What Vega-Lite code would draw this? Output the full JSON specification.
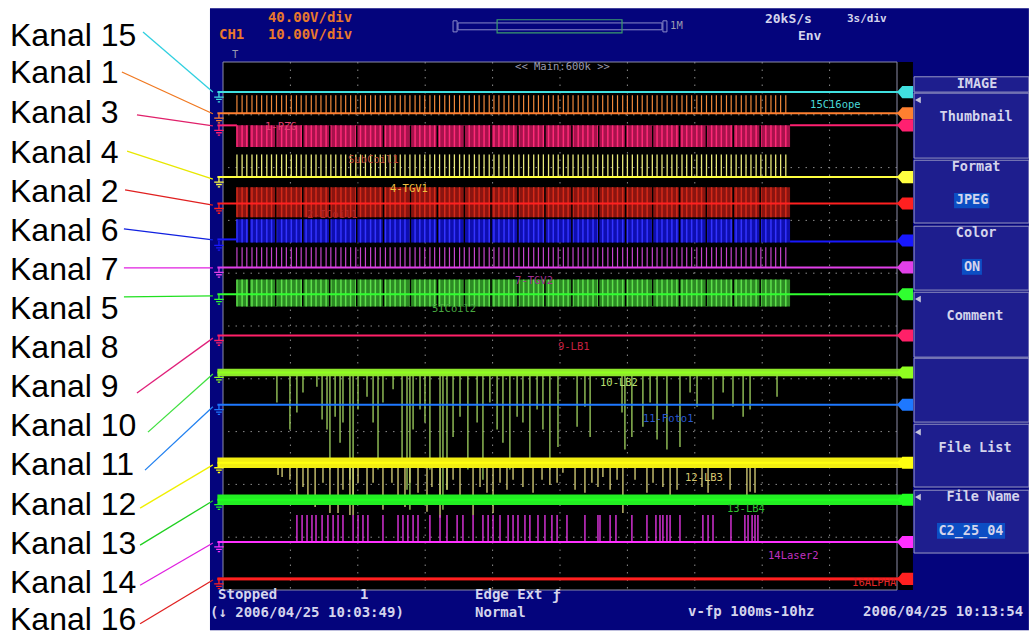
{
"$schema":"https://vega.github.io/schema/vega-lite/v6.json",
"width":674,"height":528,
"autosize":{"type":"none"},
"padding":{"left":223,"top":62,"right":132,"bottom":47},
"background":"#ffffff",
"config":{"view":{"stroke":null},"axis":{"disable":true},"legend":{"disable":true}},
"resolve":{"scale":{"color":"independent","strokeWidth":"independent"}},
"datasets":{
"train":[{"t":0.62},{"t":0.85},{"t":1.06},{"t":1.29},{"t":1.5},{"t":1.72},{"t":1.95},{"t":2.16},{"t":2.38},{"t":2.61},{"t":2.82},{"t":3.04},{"t":3.27},{"t":3.48},{"t":3.7},{"t":3.93},{"t":4.14},{"t":4.36},{"t":4.59},{"t":4.8},{"t":5.02},{"t":5.25},{"t":5.46},{"t":5.68},{"t":5.91},{"t":6.12},{"t":6.34},{"t":6.57},{"t":6.78},{"t":7.0},{"t":7.23},{"t":7.44},{"t":7.66},{"t":7.89},{"t":8.1},{"t":8.32},{"t":8.55},{"t":8.76},{"t":8.98},{"t":9.21},{"t":9.42},{"t":9.64},{"t":9.87},{"t":10.08},{"t":10.3},{"t":10.53},{"t":10.74},{"t":10.96},{"t":11.19},{"t":11.4},{"t":11.62},{"t":11.85},{"t":12.06},{"t":12.28},{"t":12.51},{"t":12.72},{"t":12.94},{"t":13.17},{"t":13.38},{"t":13.6},{"t":13.83},{"t":14.04},{"t":14.26},{"t":14.49},{"t":14.7},{"t":14.92},{"t":15.15},{"t":15.36},{"t":15.58},{"t":15.81},{"t":16.02},{"t":16.24},{"t":16.47},{"t":16.68},{"t":16.9},{"t":17.13},{"t":17.34},{"t":17.56},{"t":17.79},{"t":18.0},{"t":18.22},{"t":18.45},{"t":18.66},{"t":18.88},{"t":19.11},{"t":19.32},{"t":19.54},{"t":19.77},{"t":19.98},{"t":20.2},{"t":20.43},{"t":20.64},{"t":20.86},{"t":21.09},{"t":21.3},{"t":21.52},{"t":21.75},{"t":21.96},{"t":22.18},{"t":22.41},{"t":22.62},{"t":22.84},{"t":23.07},{"t":23.28},{"t":23.5},{"t":23.73},{"t":23.94},{"t":24.16},{"t":24.39},{"t":24.6},{"t":24.82},{"t":25.05}],
"gaps":[{"t":1.16},{"t":2.35},{"t":3.55},{"t":4.75},{"t":5.95},{"t":7.14},{"t":8.34},{"t":9.54},{"t":10.74},{"t":11.93},{"t":13.13},{"t":14.33},{"t":15.53},{"t":16.72},{"t":17.92},{"t":19.12},{"t":20.32},{"t":21.51},{"t":22.71},{"t":23.91}],
"traces":[{"s":"c15","v":9.43},{"s":"c1","v":9.03},{"s":"c3","v":8.8},{"s":"c4","v":7.82},{"s":"c2","v":7.32},{"s":"c6","v":6.62},{"s":"c7","v":6.11},{"s":"c5","v":5.6},{"s":"c9","v":4.82},{"s":"c10","v":4.12},{"s":"c11","v":3.51},{"s":"c12","v":2.41},{"s":"c13","v":1.71},{"s":"c14","v":0.91},{"s":"c16","v":0.21}]
},
"layer":[
{"data":{"values":[{"part":"bezel","t0":-0.58,"t1":35.87,"v0":11.02,"v1":-0.76}]},
 "mark":{"type":"rect","fill":"#04047c"},
 "encoding":{"x":{"field":"t0","type":"quantitative","scale":{"domain":[0,30],"nice":false,"zero":false},"axis":null},"x2":{"field":"t1"},
 "y":{"field":"v0","type":"quantitative","scale":{"domain":[0,10],"nice":false,"zero":false},"axis":null},"y2":{"field":"v1"}}},
{"data":{"values":[{"part":"screen","t0":0,"t1":30.71,"v0":0,"v1":10}]},
 "mark":{"type":"rect","fill":"#000000"},
 "encoding":{"x":{"field":"t0","type":"quantitative"},"x2":{"field":"t1"},"y":{"field":"v0","type":"quantitative"},"y2":{"field":"v1"}}},
{"data":{"values":[{"box":"header","t0":30.76,"t1":35.87,"v0":9.72,"v1":9.43},{"box":"1","t0":30.76,"t1":35.87,"v0":9.41,"v1":8.18},{"box":"2","t0":30.76,"t1":35.87,"v0":8.14,"v1":6.95},{"box":"3","t0":30.76,"t1":35.87,"v0":6.89,"v1":5.68},{"box":"4","t0":30.76,"t1":35.87,"v0":5.64,"v1":4.41},{"box":"5","t0":30.76,"t1":35.87,"v0":4.39,"v1":3.18},{"box":"6","t0":30.76,"t1":35.87,"v0":3.14,"v1":1.95},{"box":"7","t0":30.76,"t1":35.87,"v0":1.89,"v1":0.7}]},
 "mark":{"type":"rect","fill":"#1e1e8e","stroke":"#9a9ac4","strokeWidth":1},
 "encoding":{"x":{"field":"t0","type":"quantitative"},"x2":{"field":"t1"},"y":{"field":"v0","type":"quantitative"},"y2":{"field":"v1"}}},
{"data":{"values":[{"item":"JPEG","t0":32.54,"t1":34.11,"v0":7.52,"v1":7.23},{"item":"ON","t0":32.89,"t1":33.78,"v0":6.27,"v1":5.97},{"item":"C2_25_04","t0":31.78,"t1":34.81,"v0":1.27,"v1":0.97}]},
 "mark":{"type":"rect","fill":"#0c4ec4"},
 "encoding":{"x":{"field":"t0","type":"quantitative"},"x2":{"field":"t1"},"y":{"field":"v0","type":"quantitative"},"y2":{"field":"v1"}}},
{"data":{"values":[{"t":3},{"t":6},{"t":9},{"t":12},{"t":15},{"t":18},{"t":21},{"t":24},{"t":27}]},
 "mark":{"type":"rule","color":"#8a8a8a","strokeWidth":1,"strokeDash":[1.5,6]},
 "encoding":{"x":{"field":"t","type":"quantitative"}}},
{"data":{"values":[{"v":1},{"v":2},{"v":3},{"v":4},{"v":5},{"v":6},{"v":7},{"v":8},{"v":9}]},
 "mark":{"type":"rule","color":"#8a8a8a","strokeWidth":1,"strokeDash":[1.5,6]},
 "encoding":{"y":{"field":"v","type":"quantitative"}}},
{"data":{"values":[{"part":"border","t0":0,"t1":30,"v0":0,"v1":10}]},
 "mark":{"type":"rect","fillOpacity":0,"stroke":"#8c8ca8","strokeWidth":1},
 "encoding":{"x":{"field":"t0","type":"quantitative"},"x2":{"field":"t1"},"y":{"field":"v0","type":"quantitative"},"y2":{"field":"v1"}}},
{"data":{"values":[{"t":2.4,"v":3.55},{"t":2.98,"v":3.04},{"t":3.29,"v":3.36},{"t":3.56,"v":3.74},{"t":4.18,"v":3.85},{"t":4.41,"v":3.23},{"t":4.63,"v":3.04},{"t":4.76,"v":2.28},{"t":4.99,"v":3.28},{"t":5.21,"v":2.79},{"t":5.34,"v":3.17},{"t":5.65,"v":2.09},{"t":5.79,"v":1.71},{"t":6.01,"v":3.42},{"t":6.41,"v":3.66},{"t":6.68,"v":3.17},{"t":6.9,"v":2.28},{"t":7.12,"v":3.55},{"t":7.57,"v":3.8},{"t":7.97,"v":2.47},{"t":8.19,"v":1.9},{"t":8.32,"v":1.52},{"t":8.46,"v":3.04},{"t":8.77,"v":3.42},{"t":8.99,"v":3.17},{"t":9.21,"v":2.28},{"t":9.66,"v":1.71},{"t":9.79,"v":1.52},{"t":9.97,"v":1.9},{"t":10.24,"v":2.9},{"t":10.55,"v":3.28},{"t":10.9,"v":2.28},{"t":11.31,"v":3.17},{"t":11.57,"v":2.09},{"t":11.88,"v":3.55},{"t":12.2,"v":3.04},{"t":12.46,"v":2.79},{"t":12.77,"v":2.28},{"t":13.09,"v":3.28},{"t":13.35,"v":3.17},{"t":13.66,"v":2.47},{"t":13.98,"v":3.42},{"t":14.24,"v":3.04},{"t":14.55,"v":2.28},{"t":14.91,"v":2.71},{"t":15.76,"v":3.09},{"t":16.11,"v":3.47},{"t":16.34,"v":2.9},{"t":17.76,"v":3.36},{"t":17.89,"v":2.66},{"t":18.2,"v":2.9},{"t":18.69,"v":3.09},{"t":19.01,"v":3.55},{"t":19.32,"v":2.85},{"t":19.76,"v":2.66},{"t":20.34,"v":2.71},{"t":20.79,"v":3.74},{"t":21.1,"v":3.47},{"t":21.81,"v":3.23},{"t":22.26,"v":3.74},{"t":22.7,"v":3.47},{"t":23.15,"v":3.28},{"t":23.46,"v":3.42},{"t":24.66,"v":3.66}]},
 "mark":{"type":"rule","color":"#a2d460","strokeWidth":1.3},
 "encoding":{"x":{"field":"t","type":"quantitative"},"y":{"field":"v","type":"quantitative"},"y2":{"datum":4.12}}},
{"data":{"values":[{"t":2.45,"v":2.18},{"t":2.63,"v":2.14},{"t":2.98,"v":2.09},{"t":3.29,"v":1.8},{"t":3.56,"v":1.95},{"t":3.78,"v":1.8},{"t":4.1,"v":1.57},{"t":4.45,"v":2.03},{"t":4.76,"v":1.46},{"t":5.12,"v":1.46},{"t":5.34,"v":1.9},{"t":5.65,"v":1.42},{"t":5.79,"v":1.42},{"t":6.01,"v":2.03},{"t":6.41,"v":1.8},{"t":6.68,"v":2.03},{"t":7.12,"v":1.52},{"t":7.52,"v":2.03},{"t":7.79,"v":1.76},{"t":8.1,"v":1.57},{"t":8.32,"v":2.03},{"t":8.68,"v":1.84},{"t":9.08,"v":1.48},{"t":9.3,"v":1.95},{"t":9.66,"v":1.37},{"t":9.97,"v":1.9},{"t":10.24,"v":2.09},{"t":10.55,"v":1.76},{"t":11.13,"v":1.42},{"t":11.44,"v":1.95},{"t":11.75,"v":1.84},{"t":12.02,"v":1.46},{"t":12.33,"v":2.03},{"t":12.64,"v":1.9},{"t":12.91,"v":2.09},{"t":13.35,"v":1.95},{"t":13.8,"v":1.84},{"t":14.2,"v":2.09},{"t":14.55,"v":1.99},{"t":14.87,"v":2.03},{"t":15.13,"v":2.22},{"t":15.67,"v":1.9},{"t":16.11,"v":1.84},{"t":16.42,"v":2.03},{"t":16.69,"v":1.95},{"t":16.91,"v":2.14},{"t":17.23,"v":1.9},{"t":17.54,"v":2.09},{"t":17.8,"v":1.46},{"t":18.34,"v":2.09},{"t":18.87,"v":1.84},{"t":19.14,"v":2.03},{"t":19.58,"v":1.95},{"t":19.9,"v":1.8},{"t":20.21,"v":1.9},{"t":21.32,"v":1.95},{"t":21.59,"v":1.84},{"t":22.57,"v":1.9},{"t":23.32,"v":1.8},{"t":23.46,"v":1.86},{"t":23.68,"v":1.84}]},
 "mark":{"type":"rule","color":"#dcd47a","strokeWidth":1.3},
 "encoding":{"x":{"field":"t","type":"quantitative"},"y":{"field":"v","type":"quantitative"},"y2":{"datum":2.41}}},
{"data":{"values":[{"s":"c3","t0":0.62,"t1":25.24,"lo":8.39,"hi":8.8},{"s":"c2","t0":0.62,"t1":25.24,"lo":7.06,"hi":7.63},{"s":"c6","t0":0.62,"t1":25.24,"lo":6.58,"hi":7.02},{"s":"c5","t0":0.62,"t1":25.24,"lo":5.37,"hi":5.88},{"s":"c10","t0":-0.25,"t1":30.2,"lo":4.05,"hi":4.19},{"s":"c12","t0":-0.25,"t1":30.2,"lo":2.31,"hi":2.51},{"s":"c13","t0":-0.25,"t1":30.2,"lo":1.61,"hi":1.81},{"s":"c16","t0":-0.25,"t1":30.2,"lo":0.18,"hi":0.24}]},
 "mark":{"type":"rect"},
 "encoding":{"x":{"field":"t0","type":"quantitative"},"x2":{"field":"t1"},"y":{"field":"lo","type":"quantitative"},"y2":{"field":"hi"},
 "color":{"field":"s","type":"nominal","scale":{"domain":["c3","c2","c6","c5","c10","c12","c13","c16"],"range":["#a8124c","#8a1410","#0e0eb0","#2c8a24","#8ee82a","#f2ee12","#22ee22","#d81818"]},"legend":null}}},
{"data":{"name":"train"},"mark":{"type":"rule","color":"#ff2a78","strokeWidth":1.5},
 "encoding":{"x":{"field":"t","type":"quantitative"},"y":{"datum":8.39},"y2":{"datum":8.8}}},
{"data":{"name":"train"},"mark":{"type":"rule","color":"#d42a1a","strokeWidth":1.5},
 "encoding":{"x":{"field":"t","type":"quantitative"},"y":{"datum":7.06},"y2":{"datum":7.63}}},
{"data":{"name":"train"},"mark":{"type":"rule","color":"#3434ff","strokeWidth":1.5},
 "encoding":{"x":{"field":"t","type":"quantitative"},"y":{"datum":6.58},"y2":{"datum":7.02}}},
{"data":{"name":"train"},"mark":{"type":"rule","color":"#5ee04c","strokeWidth":1.5},
 "encoding":{"x":{"field":"t","type":"quantitative"},"y":{"datum":5.37},"y2":{"datum":5.88}}},
{"data":{"name":"gaps"},"mark":{"type":"rule","color":"#000000","strokeWidth":1.5},
 "encoding":{"x":{"field":"t","type":"quantitative"},"y":{"datum":5.37},"y2":{"datum":8.8}}},
{"data":{"name":"train"},"mark":{"type":"rule","color":"#f0883a","strokeWidth":1.2},
 "encoding":{"x":{"field":"t","type":"quantitative"},"y":{"datum":9.03},"y2":{"datum":9.37}}},
{"data":{"name":"train"},"mark":{"type":"rule","color":"#e8e87a","strokeWidth":1.3},
 "encoding":{"x":{"field":"t","type":"quantitative"},"y":{"datum":7.82},"y2":{"datum":8.25}}},
{"data":{"name":"train"},"mark":{"type":"rule","color":"#c444cc","strokeWidth":1.2},
 "encoding":{"x":{"field":"t","type":"quantitative"},"y":{"datum":6.11},"y2":{"datum":6.49}}},
{"data":{"values":[{"t":3.29},{"t":3.52},{"t":3.74},{"t":3.96},{"t":4.14},{"t":4.41},{"t":4.67},{"t":4.9},{"t":5.12},{"t":5.34},{"t":5.79},{"t":6.01},{"t":6.23},{"t":6.45},{"t":7.12},{"t":7.79},{"t":8.01},{"t":8.23},{"t":8.46},{"t":8.68},{"t":9.21},{"t":9.66},{"t":9.97},{"t":10.42},{"t":10.68},{"t":11.13},{"t":11.57},{"t":11.8},{"t":12.02},{"t":12.33},{"t":12.69},{"t":12.91},{"t":13.13},{"t":13.44},{"t":13.66},{"t":14.02},{"t":14.33},{"t":14.64},{"t":14.87},{"t":15.31},{"t":16.11},{"t":16.69},{"t":16.78},{"t":17.23},{"t":17.49},{"t":18.2},{"t":18.87},{"t":19.27},{"t":19.45},{"t":19.58},{"t":19.76},{"t":19.9},{"t":20.34},{"t":21.36},{"t":21.59},{"t":21.81},{"t":22.61},{"t":23.23},{"t":23.37},{"t":23.55},{"t":23.68},{"t":23.81}]},
 "mark":{"type":"rule","color":"#e034e0","strokeWidth":1.4},
 "encoding":{"x":{"field":"t","type":"quantitative"},"y":{"datum":0.91},"y2":{"datum":1.42}}},
{"data":{"values":[{"s":"c15","t0":-0.25,"t1":30.2,"v":9.43},{"s":"c1","t0":-0.25,"t1":30.2,"v":9.03},{"s":"c3","t0":-0.25,"t1":0.62,"v":8.8},{"s":"c3","t0":25.24,"t1":30.2,"v":8.8},{"s":"c4","t0":-0.25,"t1":30.2,"v":7.82},{"s":"c2","t0":-0.25,"t1":30.2,"v":7.32},{"s":"c6","t0":-0.25,"t1":0.62,"v":6.64},{"s":"c6","t0":25.24,"t1":30.2,"v":6.6},{"s":"c7","t0":-0.25,"t1":30.2,"v":6.11},{"s":"c5","t0":-0.25,"t1":30.2,"v":5.6},{"s":"c9","t0":-0.25,"t1":30.2,"v":4.82},{"s":"c10","t0":-0.25,"t1":30.2,"v":4.12},{"s":"c11","t0":-0.25,"t1":30.2,"v":3.51},{"s":"c12","t0":-0.25,"t1":30.2,"v":2.41},{"s":"c13","t0":-0.25,"t1":30.2,"v":1.71},{"s":"c14","t0":-0.25,"t1":30.2,"v":0.91},{"s":"c16","t0":-0.25,"t1":30.2,"v":0.21}]},
 "mark":{"type":"rule"},
 "encoding":{"x":{"field":"t0","type":"quantitative"},"x2":{"field":"t1"},"y":{"field":"v","type":"quantitative"},
 "color":{"field":"s","type":"nominal","scale":{"domain":["c15","c1","c3","c4","c2","c6","c7","c5","c9","c10","c11","c12","c13","c14","c16"],"range":["#40e0e0","#ff8030","#ff2070","#ffff40","#ff2020","#1818ff","#e040e8","#30ff30","#ff2068","#90ff20","#1e78ff","#ffff10","#20ff20","#ff30ff","#ff2020"]},"legend":null},
 "strokeWidth":{"field":"s","type":"nominal","scale":{"domain":["c15","c1","c3","c4","c2","c6","c7","c5","c9","c10","c11","c12","c13","c14","c16"],"range":[2,2,3,2,4,3,3,4,4,2,5,2,2,4,2]},"legend":null}}},
{"data":{"name":"traces"},
 "mark":{"type":"point","shape":"M0,-1L0,0M-1,0L1,0M-0.6,0.5L0.6,0.5M-0.25,1L0.25,1","filled":false,"size":90,"strokeWidth":1.3,"yOffset":5,"opacity":1},
 "encoding":{"x":{"datum":-0.18},"y":{"field":"v","type":"quantitative"},
 "color":{"field":"s","type":"nominal","scale":{"domain":["c15","c1","c3","c4","c2","c6","c7","c5","c9","c10","c11","c12","c13","c14","c16"],"range":["#40e0e0","#ff8030","#ff2070","#ffff40","#ff2020","#1818ff","#e040e8","#30ff30","#ff2068","#90ff20","#1e78ff","#ffff10","#20ff20","#ff30ff","#ff2020"]},"legend":null}}},
{"data":{"name":"traces"},
 "mark":{"type":"point","shape":"M-1,0L-0.35,-0.75L1,-0.75L1,0.75L-0.35,0.75Z","filled":true,"size":260,"opacity":1},
 "encoding":{"x":{"datum":30.36},"y":{"field":"v","type":"quantitative"},
 "color":{"field":"s","type":"nominal","scale":{"domain":["c15","c1","c3","c4","c2","c6","c7","c5","c9","c10","c11","c12","c13","c14","c16"],"range":["#40e0e0","#ff8030","#ff2070","#ffff40","#ff2020","#1818ff","#e040e8","#30ff30","#ff2068","#90ff20","#1e78ff","#ffff10","#20ff20","#ff30ff","#ff2020"]},"legend":null}}},
{"data":{"values":[{"txt":"15C16ope","t":26.13,"v":9.19},{"txt":"1-PZG","t":1.87,"v":8.77},{"txt":"SubCoil1","t":5.56,"v":8.14},{"txt":"4-TGV1","t":7.43,"v":7.59},{"txt":"2-ICoil1","t":3.74,"v":7.1},{"txt":"7-TGV2","t":13.0,"v":5.85},{"txt":"5ICoil2","t":9.3,"v":5.32},{"txt":"9-LB1","t":14.91,"v":4.6},{"txt":"10-LB2","t":16.78,"v":3.92},{"txt":"11-Foto1","t":18.69,"v":3.24},{"txt":"12-LB3","t":20.56,"v":2.12},{"txt":"13-LB4","t":22.43,"v":1.53},{"txt":"14Laser2","t":24.26,"v":0.64},{"txt":"16ALPHA","t":28.0,"v":0.13}]},
 "mark":{"type":"text","align":"left","baseline":"middle","font":"DejaVu Sans Mono","fontSize":10.5},
 "encoding":{"x":{"field":"t","type":"quantitative"},"y":{"field":"v","type":"quantitative"},"text":{"field":"txt"},
 "color":{"field":"txt","type":"nominal","scale":{"domain":["15C16ope","1-PZG","SubCoil1","4-TGV1","2-ICoil1","7-TGV2","5ICoil2","9-LB1","10-LB2","11-Foto1","12-LB3","13-LB4","14Laser2","16ALPHA"],"range":["#48d8d8","#e04070","#b84a3a","#f0c040","#b02828","#a03090","#48a840","#c82040","#b8e070","#2858d0","#d8c870","#30c030","#c030c0","#e02828"]},"legend":null}}},
{"data":{"values":[{"part":"bar","t0":10.46,"t1":19.54,"v0":10.74,"v1":10.61},{"part":"left","t0":10.24,"t1":10.42,"v0":10.78,"v1":10.57},{"part":"right","t0":19.58,"t1":19.76,"v0":10.78,"v1":10.57}]},
 "mark":{"type":"rect","fillOpacity":0,"stroke":"#8a8ac8","strokeWidth":1},
 "encoding":{"x":{"field":"t0","type":"quantitative"},"x2":{"field":"t1"},"y":{"field":"v0","type":"quantitative"},"y2":{"field":"v1"}}},
{"data":{"values":[{"part":"window","t0":12.2,"t1":17.76,"v0":10.8,"v1":10.55}]},
 "mark":{"type":"rect","fillOpacity":0,"stroke":"#3c9c6c","strokeWidth":1.2},
 "encoding":{"x":{"field":"t0","type":"quantitative"},"x2":{"field":"t1"},"y":{"field":"v0","type":"quantitative"},"y2":{"field":"v1"}}},
{"data":{"values":[{"txt":"40.00V/div","t":2.0,"v":10.83},{"txt":"CH1","t":-0.18,"v":10.51},{"txt":"10.00V/div","t":2.0,"v":10.51}]},
 "mark":{"type":"text","align":"left","baseline":"middle","font":"DejaVu Sans Mono","fontSize":14,"fontWeight":"bold","color":"#e8782c"},
 "encoding":{"x":{"field":"t","type":"quantitative"},"y":{"field":"v","type":"quantitative"},"text":{"field":"txt"}}},
{"data":{"values":[{"txt":"20kS/s","t":24.12,"v":10.81},{"txt":"Env","t":25.59,"v":10.5}]},
 "mark":{"type":"text","align":"left","baseline":"middle","font":"DejaVu Sans Mono","fontSize":13,"fontWeight":"bold","color":"#d4d4ec"},
 "encoding":{"x":{"field":"t","type":"quantitative"},"y":{"field":"v","type":"quantitative"},"text":{"field":"txt"}}},
{"data":{"values":[{"txt":"Stopped","t":-0.22,"v":-0.09},{"txt":"1","t":6.1,"v":-0.09},{"txt":"Edge Ext","t":11.22,"v":-0.09},{"txt":"ƒ","t":14.65,"v":-0.11},{"txt":"(↓ 2006/04/25 10:03:49)","t":-0.58,"v":-0.44},{"txt":"Normal","t":11.22,"v":-0.44},{"txt":"v-fp 100ms-10hz","t":20.7,"v":-0.42},{"txt":"2006/04/25 10:13:54","t":28.49,"v":-0.42}]},
 "mark":{"type":"text","align":"left","baseline":"middle","font":"DejaVu Sans Mono","fontSize":14,"fontWeight":"bold","color":"#d4d4ec"},
 "encoding":{"x":{"field":"t","type":"quantitative"},"y":{"field":"v","type":"quantitative"},"text":{"field":"txt"}}},
{"data":{"values":[{"txt":"3s/div","t":27.77,"v":10.81}]},
 "mark":{"type":"text","align":"left","baseline":"middle","font":"DejaVu Sans Mono","fontSize":11,"fontWeight":"bold","color":"#d4d4ec"},
 "encoding":{"x":{"field":"t","type":"quantitative"},"y":{"field":"v","type":"quantitative"},"text":{"field":"txt"}}},
{"data":{"values":[{"txt":"<< Main:600k >>","t":13.0,"v":9.91},{"txt":"1M","t":19.9,"v":10.68},{"txt":"T","t":0.4,"v":10.14}]},
 "mark":{"type":"text","align":"left","baseline":"middle","font":"DejaVu Sans Mono","fontSize":10.5,"color":"#9a9ab0"},
 "encoding":{"x":{"field":"t","type":"quantitative"},"y":{"field":"v","type":"quantitative"},"text":{"field":"txt"}}},
{"data":{"values":[{"txt":"IMAGE","t":33.56,"v":9.58},{"txt":"Thumbnail","t":33.52,"v":8.96},{"txt":"Format","t":33.52,"v":8.01},{"txt":"JPEG","t":33.34,"v":7.39},{"txt":"Color","t":33.52,"v":6.76},{"txt":"ON","t":33.34,"v":6.12},{"txt":"Comment","t":33.47,"v":5.19},{"txt":"File List","t":33.47,"v":2.69},{"txt":"File Name","t":33.83,"v":1.76},{"txt":"C2_25_04","t":33.29,"v":1.12}]},
 "mark":{"type":"text","align":"center","baseline":"middle","font":"DejaVu Sans Mono","fontSize":13.5,"fontWeight":"bold","color":"#d4d4ec"},
 "encoding":{"x":{"field":"t","type":"quantitative"},"y":{"field":"v","type":"quantitative"},"text":{"field":"txt"}}},
{"data":{"values":[{"box":"Thumbnail","t":30.93,"v":9.28},{"box":"Comment","t":30.93,"v":5.51},{"box":"File List","t":30.93,"v":2.99},{"box":"File Name","t":30.93,"v":1.76}]},
 "mark":{"type":"point","shape":"triangle-left","filled":true,"size":45,"color":"#c4c4da","opacity":1},
 "encoding":{"x":{"field":"t","type":"quantitative"},"y":{"field":"v","type":"quantitative"}}},
{"data":{"values":[{"s":"c15","t":-3.56,"v":10.57,"t2":-0.45,"v2":9.43},{"s":"c1","t":-4.5,"v":9.81,"t2":-0.45,"v2":9.02},{"s":"c3","t":-3.83,"v":9.0,"t2":-0.45,"v2":8.79},{"s":"c4","t":-4.27,"v":8.31,"t2":-0.45,"v2":7.78},{"s":"c2","t":-4.36,"v":7.58,"t2":-0.45,"v2":7.29},{"s":"c6","t":-4.41,"v":6.84,"t2":-0.45,"v2":6.63},{"s":"c7","t":-4.41,"v":6.1,"t2":-0.45,"v2":6.1},{"s":"c5","t":-4.41,"v":5.55,"t2":-0.45,"v2":5.57},{"s":"c9","t":-3.83,"v":3.73,"t2":-0.45,"v2":4.77},{"s":"c10","t":-3.34,"v":2.99,"t2":-0.45,"v2":4.09},{"s":"c11","t":-3.47,"v":2.27,"t2":-0.45,"v2":3.47},{"s":"c12","t":-3.69,"v":1.55,"t2":-0.45,"v2":2.37},{"s":"c13","t":-3.69,"v":0.85,"t2":-0.45,"v2":1.69},{"s":"c14","t":-3.69,"v":0.09,"t2":-0.45,"v2":0.89},{"s":"c16","t":-3.69,"v":-0.64,"t2":-0.45,"v2":0.19}]},
 "mark":{"type":"rule","strokeWidth":1.3},
 "encoding":{"x":{"field":"t","type":"quantitative"},"y":{"field":"v","type":"quantitative"},"x2":{"field":"t2"},"y2":{"field":"v2"},
 "color":{"field":"s","type":"nominal","scale":{"domain":["c15","c1","c3","c4","c2","c6","c7","c5","c9","c10","c11","c12","c13","c14","c16"],"range":["#30d0e0","#f07820","#e0206a","#e8e800","#e02020","#1020e0","#e020e0","#20e020","#e0207a","#40e040","#2080f0","#f0f000","#20d020","#e020e0","#e02020"]},"legend":null}}},
{"data":{"values":[{"k":"Kanal 15","t":-9.48,"v":10.49},{"k":"Kanal 1","t":-9.48,"v":9.79},{"k":"Kanal 3","t":-9.48,"v":9.03},{"k":"Kanal 4","t":-9.48,"v":8.28},{"k":"Kanal 2","t":-9.48,"v":7.54},{"k":"Kanal 6","t":-9.48,"v":6.8},{"k":"Kanal 7","t":-9.48,"v":6.06},{"k":"Kanal 5","t":-9.48,"v":5.32},{"k":"Kanal 8","t":-9.48,"v":4.58},{"k":"Kanal 9","t":-9.48,"v":3.84},{"k":"Kanal 10","t":-9.48,"v":3.11},{"k":"Kanal 11","t":-9.48,"v":2.37},{"k":"Kanal 12","t":-9.48,"v":1.61},{"k":"Kanal 13","t":-9.48,"v":0.87},{"k":"Kanal 14","t":-9.48,"v":0.13},{"k":"Kanal 16","t":-9.48,"v":-0.57}]},
 "mark":{"type":"text","align":"left","baseline":"middle","font":"Liberation Sans","fontSize":32,"color":"#000000"},
 "encoding":{"x":{"field":"t","type":"quantitative"},"y":{"field":"v","type":"quantitative"},"text":{"field":"k"}}}
]
}
